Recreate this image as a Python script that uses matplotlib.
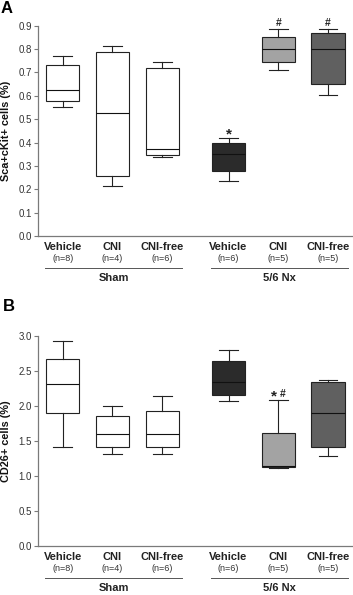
import numpy as np
import matplotlib
matplotlib.use("Agg")
import matplotlib.pyplot as plt
import matplotlib.transforms as mtransforms

plt.rcParams['font.family'] = ['Liberation Sans', 'DejaVu Sans']

# data
treatments = ['Vehicle', 'CNI', 'CNI-free', 'Vehicle', 'CNI', 'CNI-free']
n_labels = ['(n=8)', '(n=4)', '(n=6)', '(n=6)', '(n=5)', '(n=5)']
groups = ['Sham', '5/6 Nx']
fills = ['white', 'white', 'white', '#2b2b2b', '#a3a3a3', '#606060']

a_lo = [0.553, 0.214, 0.337, 0.237, 0.709, 0.605]
a_q1 = [0.579, 0.258, 0.347, 0.278, 0.743, 0.650]
a_med = [0.625, 0.528, 0.372, 0.350, 0.800, 0.800]
a_q3 = [0.733, 0.786, 0.720, 0.400, 0.853, 0.867]
a_hi = [0.770, 0.813, 0.743, 0.420, 0.887, 0.884]
a_sig = ['', '', '', '*', '#', '#']

b_lo = [1.41, 1.31, 1.31, 2.07, 1.118, 1.29]
b_q1 = [1.904, 1.419, 1.42, 2.153, 1.13, 1.41]
b_med = [2.32, 1.60, 1.60, 2.343, 1.147, 1.904]
b_q3 = [2.667, 1.857, 1.924, 2.647, 1.614, 2.338]
b_hi = [2.93, 2.004, 2.138, 2.805, 2.08, 2.376]
b_sig = ['', '', '', '', '*#', '']

pos = np.array([1, 2, 3, 4.33, 5.33, 6.33])
spine_c = '#7a7a7a'

fig = plt.figure(figsize=(3.53, 5.95), dpi=100)
axA = fig.add_axes([0.1085, 0.6034, 0.8915, 0.3534])
axB = fig.add_axes([0.1085, 0.0824, 0.8915, 0.3529])


def panel(ax, lo, q1, med, q3, hi, sig, ymax, step, ylabel):
    stats = []
    for i in range(len(lo)):
        stats.append(dict(whislo=lo[i], q1=q1[i], med=med[i], q3=q3[i], whishi=hi[i], fliers=[]))
    bp = ax.bxp(stats, positions=pos, widths=0.67, capwidths=0.37, patch_artist=True,
                showfliers=False,
                boxprops=dict(edgecolor='#222222', linewidth=0.8),
                whiskerprops=dict(color='#222222', linewidth=0.8),
                capprops=dict(color='#222222', linewidth=0.8),
                medianprops=dict(color='#111111', linewidth=0.8))
    for patch, c in zip(bp['boxes'], fills):
        patch.set_facecolor(c)
    for i, s in enumerate(sig):
        if s:
            # asterisk drawn bigger than the hash, like the original
            for k, ch in enumerate(s):
                dx = (k - (len(s) - 1) / 2) * 6
                big = ch == '*'
                ax.annotate(ch, (pos[i], hi[i]), xytext=(dx, -2.5 if big else 0.8),
                            textcoords='offset points', ha='center', va='bottom',
                            fontsize=11 if big else 7.5, fontweight='bold', color='#222222')
    ax.set_xlim(0.51, 6.83)
    ax.set_ylim(0, ymax)
    ticks = np.arange(0, ymax + step / 2, step)
    ax.set_yticks(ticks)
    ax.set_yticklabels(['%.1f' % t for t in ticks])
    ax.tick_params(axis='y', length=3, width=0.8, color=spine_c, labelsize=7,
                   labelcolor='#333333', pad=1.5)
    ax.set_xticks([])
    for s in ['top', 'right']:
        ax.spines[s].set_visible(False)
    for s in ['left', 'bottom']:
        ax.spines[s].set_color(spine_c)
        ax.spines[s].set_linewidth(0.9)
    ax.set_ylabel(ylabel, fontsize=7.8, fontweight='bold', color='#111111')
    ax.yaxis.set_label_coords(-0.086, 0.5)

    tr = mtransforms.blended_transform_factory(ax.transData, ax.transAxes)
    for i in range(len(pos)):
        ax.annotate(treatments[i], (pos[i], 0), xycoords=tr, xytext=(0, -7.7),
                    textcoords='offset points', ha='center', va='center',
                    fontsize=8, fontweight='bold', color='#222222')
        ax.annotate(n_labels[i], (pos[i], 0), xycoords=tr, xytext=(0, -16.3),
                    textcoords='offset points', ha='center', va='center',
                    fontsize=6.5, color='#333333')
    for g in range(2):
        x0 = pos[3 * g] - 0.36
        x1 = pos[3 * g + 2] + 0.4
        line = plt.Line2D([x0, x1], [0, 0], color='#555555', linewidth=0.7,
                          transform=tr + mtransforms.ScaledTranslation(0, -32 / 100, fig.dpi_scale_trans),
                          clip_on=False)
        ax.add_line(line)
        ax.annotate(groups[g], ((x0 + x1) / 2, 0), xycoords=tr, xytext=(0, -30),
                    textcoords='offset points', ha='center', va='center',
                    fontsize=8, fontweight='bold', color='#222222')


panel(axA, a_lo, a_q1, a_med, a_q3, a_hi, a_sig, 0.9, 0.1, 'Sca+cKit+ cells (%)')
panel(axB, b_lo, b_q1, b_med, b_q3, b_hi, b_sig, 3.0, 0.5, 'CD26+ cells (%)')

fig.text(0.002, 0.998, 'A', fontsize=12, fontweight='bold', ha='left', va='top')
fig.text(0.008, 0.497, 'B', fontsize=12, fontweight='bold', ha='left', va='top')

fig.savefig('out.png', dpi=100)
